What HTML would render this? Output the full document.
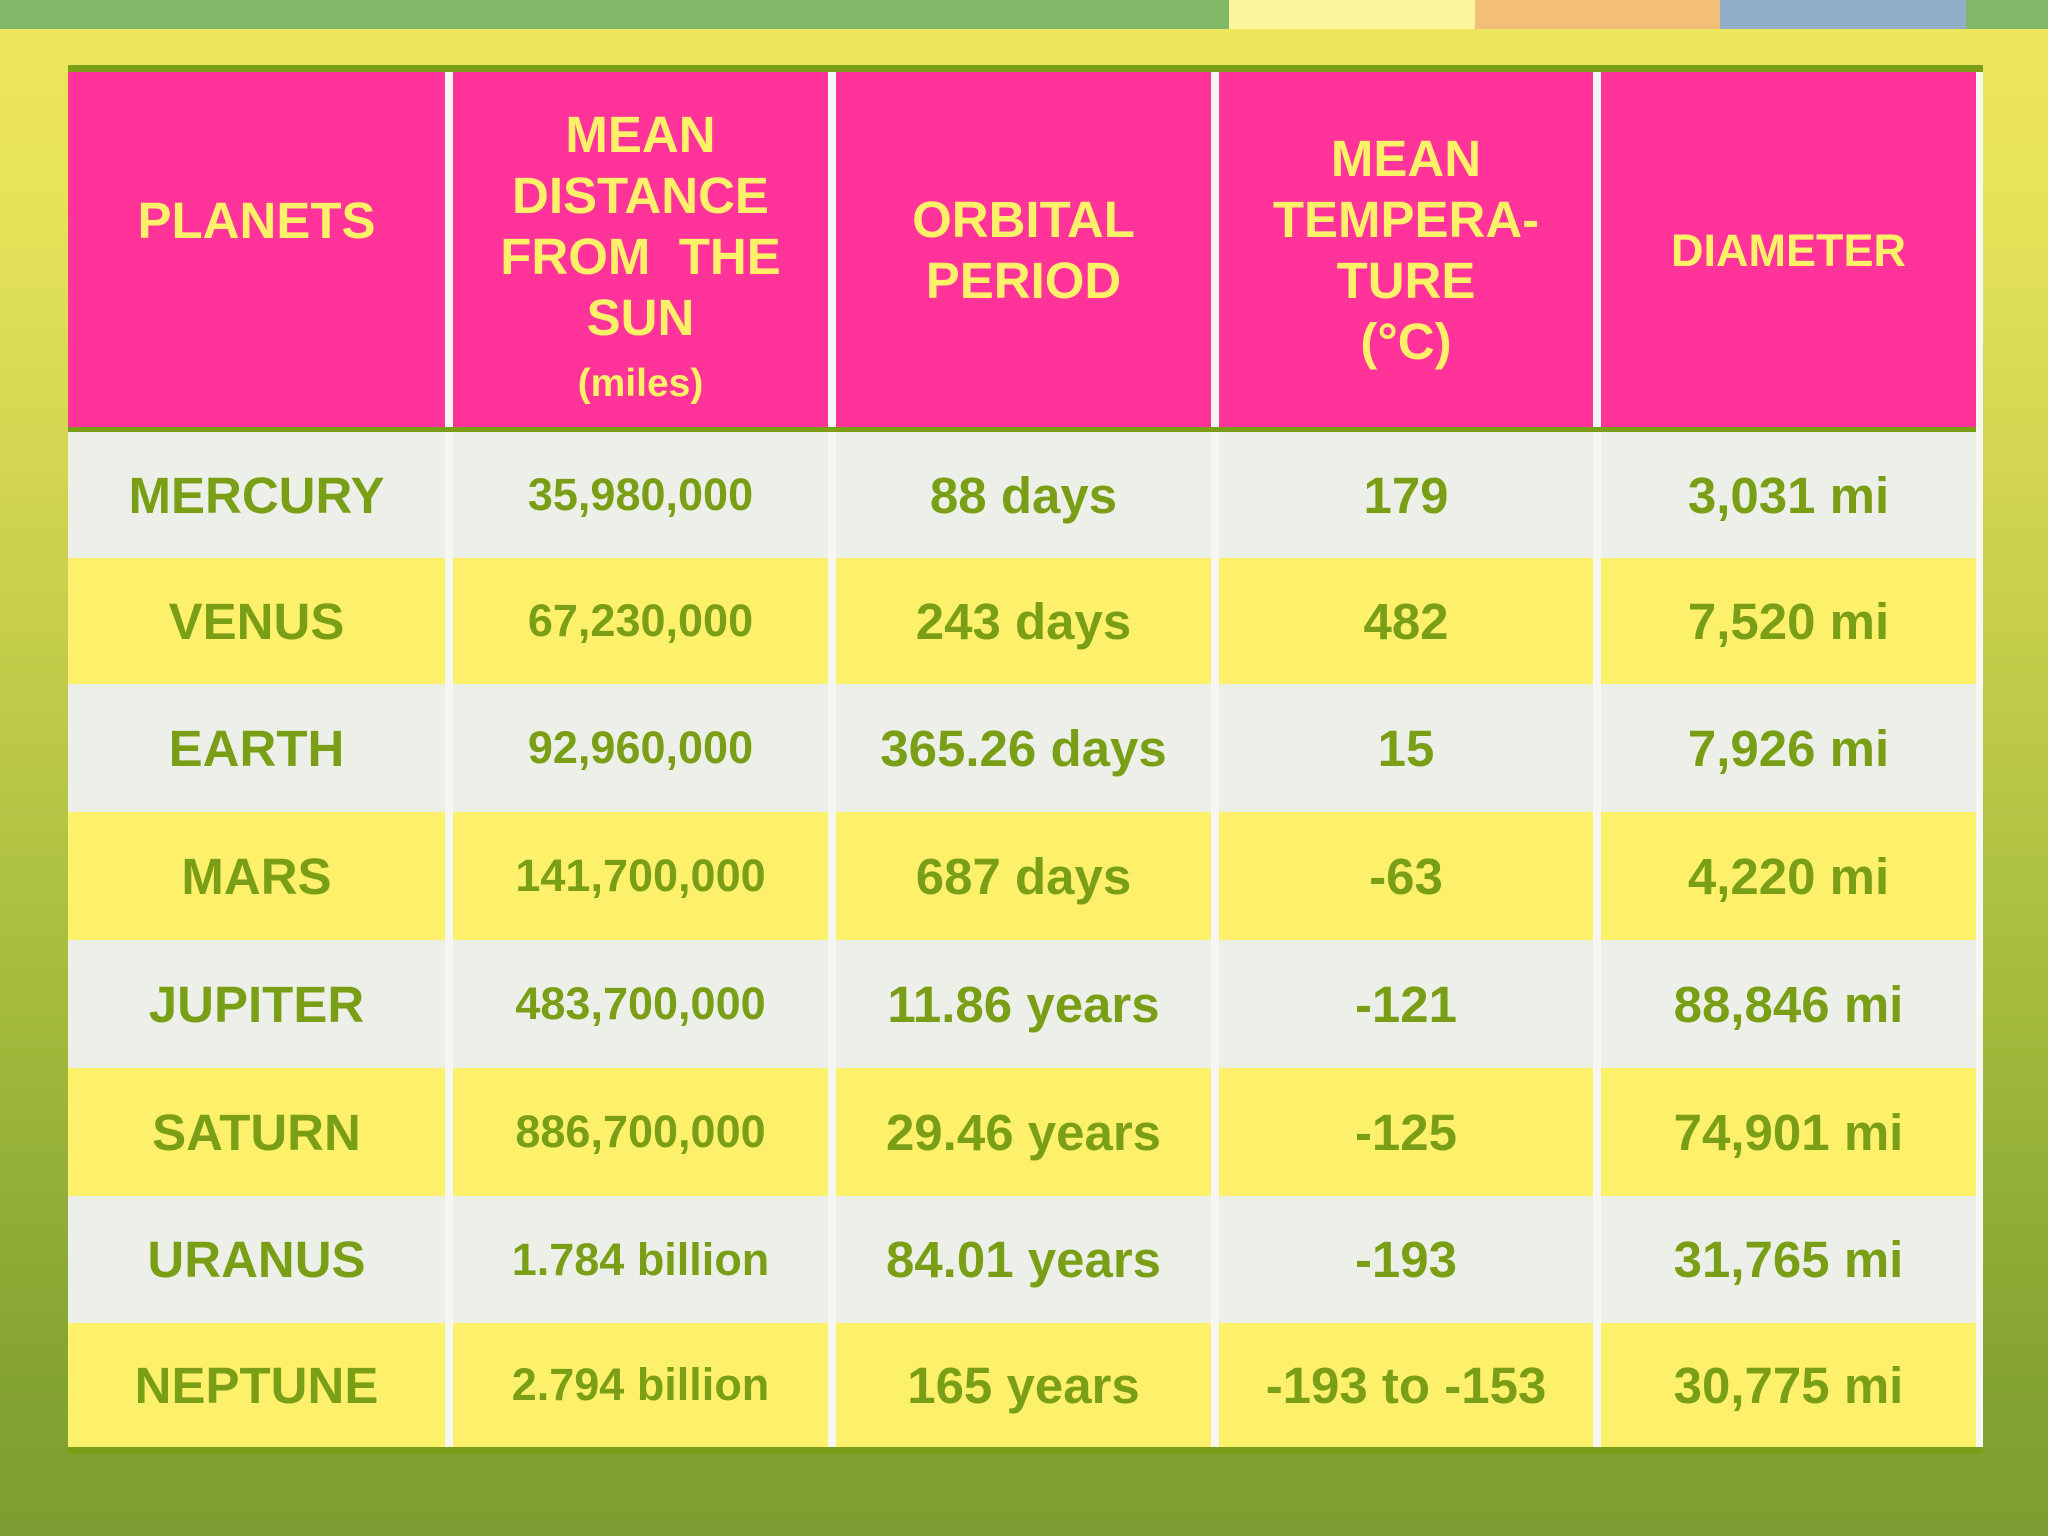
<!DOCTYPE html>
<html><head><meta charset="utf-8">
<style>
html,body{margin:0;padding:0;}
body{width:2048px;height:1536px;position:relative;overflow:hidden;font-family:"Liberation Sans",Arial,sans-serif;font-weight:bold;
background:linear-gradient(180deg,#efe65e 0px,#e6e35a 200px,#c8cf4c 600px,#a4bb3c 1000px,#86a532 1350px,#7c9e32 1536px);}
.bar{position:absolute;top:0;height:29px;}
.cell{position:absolute;display:flex;align-items:center;justify-content:center;text-align:center;color:#7a9f16;white-space:nowrap;box-sizing:border-box;}
.h{background:#ff3399;color:#fff06a;font-size:51px;line-height:61px;}
.g{background:#edf0e8;}
.y{background:#fdf06a;}
.n{font-size:51px;}
.v{font-size:45px;}
</style></head>
<body>
<div class="bar" style="left:0;width:1229px;background:#80b868"></div>
<div class="bar" style="left:1229px;width:246px;background:#fdf59c"></div>
<div class="bar" style="left:1475px;width:245px;background:#f2be78"></div>
<div class="bar" style="left:1720px;width:246px;background:#90aec8"></div>
<div class="bar" style="left:1966px;width:82px;background:#80b868"></div>

<div style="position:absolute;left:68px;top:65px;width:1915px;height:1389px;background:#7a9f16"></div>
<div style="position:absolute;left:68px;top:72px;width:1915px;height:1375px;background:#f6f7f2"></div>
<div id="t"></div>
<script>
const cols=[68,453,836,1219,1601];
const colW=[377,375,375,374,375];
const headers=["PLANETS","MEAN<br>DISTANCE<br>FROM&nbsp; THE<br>SUN<br><span style='font-size:39px;line-height:50px'>(miles)</span>","ORBITAL<br>PERIOD","MEAN<br>TEMPERA-<br>TURE<br>(°C)","<span style='font-size:45px'>DIAMETER</span>"];
const headerPad=["0 0 58px 0","14px 0 0 0","0","0","0"];
const headerNames=["planets-header","distance-header","orbital-period-header","temperature-header","diameter-header"];
const rows=[
["MERCURY","35,980,000","88 days","179","3,031 mi"],
["VENUS","67,230,000","243 days","482","7,520 mi"],
["EARTH","92,960,000","365.26 days","15","7,926 mi"],
["MARS","141,700,000","687 days","-63","4,220 mi"],
["JUPITER","483,700,000","11.86 years","-121","88,846 mi"],
["SATURN","886,700,000","29.46 years","-125","74,901 mi"],
["URANUS","1.784 billion","84.01 years","-193","31,765 mi"],
["NEPTUNE","2.794 billion","165 years","-193 to -153","30,775 mi"]];
const rowTops=[432,558,684,812,940,1068,1196,1323,1447];
const t=document.getElementById('t');
for(let c=0;c<5;c++){
 const d=document.createElement('div');
 d.className='cell h';
 d.style.cssText=`left:${cols[c]}px;top:72px;width:${colW[c]}px;height:355px;padding:${headerPad[c]};`;
 d.innerHTML='<div>'+headers[c]+'</div>';
 
 
 t.appendChild(d);
}
const hl=document.createElement('div');
hl.style.cssText='position:absolute;left:68px;top:427px;width:1908px;height:5px;background:#7a9f16';


t.appendChild(hl);
for(let r=0;r<rows.length;r++){
 for(let c=0;c<5;c++){
  const d=document.createElement('div');
  d.className='cell '+(r%2?'y':'g')+' '+(c==1?'v':'n');
  d.style.cssText=`left:${cols[c]}px;top:${rowTops[r]}px;width:${colW[c]}px;height:${rowTops[r+1]-rowTops[r]}px;`;
  d.textContent=rows[r][c];
  
  
  t.appendChild(d);
 }
}
</script>
</body></html>
